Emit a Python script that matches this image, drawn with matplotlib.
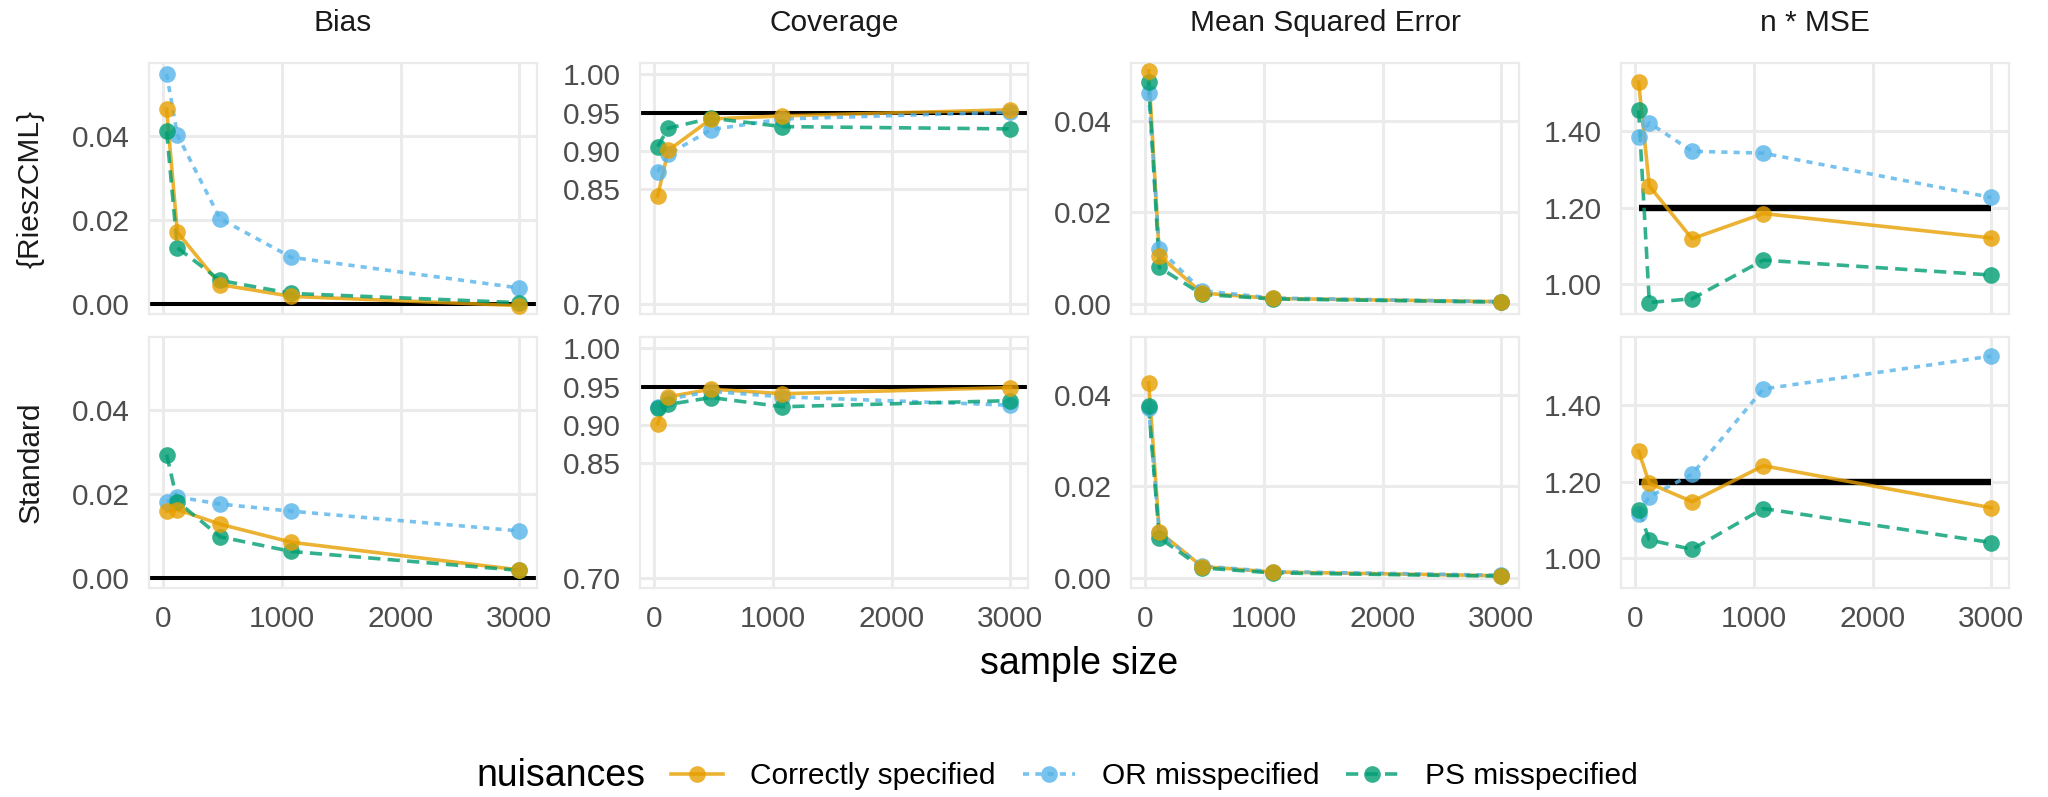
import matplotlib

matplotlib.use("Agg")
import matplotlib.pyplot as plt
from matplotlib.lines import Line2D


plt.rcParams["font.family"] = ["Liberation Sans", "DejaVu Sans"]

FIG_W, FIG_H, DPI = 2048, 797, 100

sample_size = [30, 120, 480, 1080, 3000]

estimators = ["{RieszCML}", "Standard"]
metrics = ["Bias", "Coverage", "Mean Squared Error", "n * MSE"]
nuisances = ["Correctly specified", "OR misspecified", "PS misspecified"]

# Bias
bias_riesz_correct = [0.0463, 0.0170, 0.0045, 0.0017, -0.0005]
bias_riesz_or = [0.0547, 0.0402, 0.0202, 0.0110, 0.0037]
bias_riesz_ps = [0.0410, 0.0133, 0.0055, 0.0024, 0.0002]
bias_std_correct = [0.0158, 0.0162, 0.0127, 0.0084, 0.0018]
bias_std_or = [0.0181, 0.0192, 0.0175, 0.0158, 0.0111]
bias_std_ps = [0.0293, 0.0181, 0.0097, 0.0062, 0.0017]

# Coverage
cov_riesz_correct = [0.8415, 0.901, 0.942, 0.946, 0.954]
cov_riesz_or = [0.873, 0.896, 0.928, 0.942, 0.951]
cov_riesz_ps = [0.906, 0.930, 0.943, 0.932, 0.929]
cov_std_correct = [0.902, 0.937, 0.947, 0.941, 0.949]
cov_std_or = [0.924, 0.934, 0.944, 0.937, 0.926]
cov_std_ps = [0.922, 0.927, 0.936, 0.924, 0.932]

# Mean squared error
mse_riesz_correct = [0.0510, 0.0105, 0.0023, 0.0011, 0.0004]
mse_riesz_or = [0.0462, 0.0119, 0.0028, 0.0012, 0.0004]
mse_riesz_ps = [0.0485, 0.0079, 0.0020, 0.0010, 0.0003]
mse_std_correct = [0.0427, 0.0100, 0.0024, 0.0012, 0.0004]
mse_std_or = [0.0372, 0.0097, 0.0025, 0.0013, 0.0005]
mse_std_ps = [0.0375, 0.0087, 0.0021, 0.0010, 0.0003]

# n * MSE
nmse_riesz_correct = [1.529, 1.257, 1.119, 1.185, 1.121]
nmse_riesz_or = [1.385, 1.422, 1.348, 1.343, 1.227]
nmse_riesz_ps = [1.455, 0.952, 0.962, 1.063, 1.024]
nmse_std_correct = [1.280, 1.196, 1.148, 1.242, 1.132]
nmse_std_or = [1.117, 1.161, 1.220, 1.443, 1.529]
nmse_std_ps = [1.126, 1.048, 1.023, 1.130, 1.041]

# reference values
bias_ref = 0.0
coverage_ref = 0.95
nmse_ref = 1.20

y_breaks = {
    "Bias": [0.00, 0.02, 0.04],
    "Coverage": [0.70, 0.85, 0.90, 0.95, 1.00],
    "Mean Squared Error": [0.00, 0.02, 0.04],
    "n * MSE": [1.00, 1.20, 1.40],
}
y_limits = {
    "Bias": (-0.0025, 0.0573),
    "Coverage": (0.6875, 1.015),
    "Mean Squared Error": (-0.0023, 0.0527),
    "n * MSE": (0.922, 1.579),
}
x_breaks = [0, 1000, 2000, 3000]

COLORS = {
    "Correctly specified": "#E69F00",
    "OR misspecified": "#56B4E9",
    "PS misspecified": "#009E73",
}
DASHES = {
    "Correctly specified": None,
    "OR misspecified": (1.7, 1.7),
    "PS misspecified": (3.4, 2.0),
}

PANEL_LEFT = [149, 640, 1131, 1621]
PANEL_WIDTH = 388
PANEL_TOP = [63, 337]
PANEL_HEIGHT = 251

GRID = "#EBEBEB"
TICK_COLOR = "#4D4D4D"
SMALL = 21.5
LARGE = 27
LINE_W = 2.6
MARKER = 12


def series_table():
    """Collect the series per (estimator, metric)."""
    return {
        ("{RieszCML}", "Bias"): [bias_riesz_correct, bias_riesz_or, bias_riesz_ps],
        ("Standard", "Bias"): [bias_std_correct, bias_std_or, bias_std_ps],
        ("{RieszCML}", "Coverage"): [cov_riesz_correct, cov_riesz_or, cov_riesz_ps],
        ("Standard", "Coverage"): [cov_std_correct, cov_std_or, cov_std_ps],
        ("{RieszCML}", "Mean Squared Error"): [mse_riesz_correct, mse_riesz_or, mse_riesz_ps],
        ("Standard", "Mean Squared Error"): [mse_std_correct, mse_std_or, mse_std_ps],
        ("{RieszCML}", "n * MSE"): [nmse_riesz_correct, nmse_riesz_or, nmse_riesz_ps],
        ("Standard", "n * MSE"): [nmse_std_correct, nmse_std_or, nmse_std_ps],
    }


def add_panel(fig, row, col):
    left = PANEL_LEFT[col] / FIG_W
    bottom = 1 - (PANEL_TOP[row] + PANEL_HEIGHT) / FIG_H
    ax = fig.add_axes([left, bottom, PANEL_WIDTH / FIG_W, PANEL_HEIGHT / FIG_H])
    ax.set_facecolor("white")
    for spine in ax.spines.values():
        spine.set_color(GRID)
        spine.set_linewidth(1.6)
    ax.grid(True, color=GRID, linewidth=2.2)
    ax.set_axisbelow(True)
    ax.tick_params(length=0, labelsize=SMALL, labelcolor=TICK_COLOR)
    ax.tick_params(axis="x", pad=12)
    ax.tick_params(axis="y", pad=14)
    return ax


def draw_series(ax, values):
    for name, y in zip(nuisances, values):
        line = Line2D(sample_size, y, color=COLORS[name], linewidth=LINE_W, alpha=0.8, zorder=3)
        if DASHES[name] is not None:
            line.set_dashes(DASHES[name])
        ax.add_line(line)
    for name in ["OR misspecified", "PS misspecified", "Correctly specified"]:
        y = values[nuisances.index(name)]
        ax.plot(sample_size, y, linestyle="none", marker="o", markersize=MARKER,
                markeredgewidth=0, color=COLORS[name], alpha=0.8, zorder=4)


def main():
    fig = plt.figure(figsize=(FIG_W / DPI, FIG_H / DPI), dpi=DPI)
    table = series_table()

    for row, est in enumerate(estimators):
        for col, metric in enumerate(metrics):
            ax = add_panel(fig, row, col)
            draw_series(ax, table[(est, metric)])

            if metric == "Bias":
                ax.axhline(bias_ref, color="black", linewidth=2.9, zorder=2)
            elif metric == "Coverage":
                ax.axhline(coverage_ref, color="black", linewidth=2.9, zorder=2)
            elif metric == "n * MSE":
                ax.plot([sample_size[0], sample_size[-1]], [nmse_ref, nmse_ref],
                        color="black", linewidth=4.6, solid_capstyle="butt", zorder=2)

            ax.set_xlim(-118.5, 3148.5)
            ax.set_ylim(*y_limits[metric])
            ax.set_xticks(x_breaks)
            ax.set_yticks(y_breaks[metric])
            ax.set_yticklabels([f"{v:.2f}" for v in y_breaks[metric]])
            if row == 0:
                ax.set_xticklabels([])
            else:
                ax.set_xticklabels([str(v) for v in x_breaks])

    # column strips
    for col, metric in enumerate(metrics):
        cx = (PANEL_LEFT[col] + PANEL_WIDTH / 2) / FIG_W
        fig.text(cx, 1 - 23 / FIG_H, metric, ha="center", va="center",
                 fontsize=SMALL, color="#1A1A1A")

    # row strips
    for row, est in enumerate(estimators):
        cy = 1 - (PANEL_TOP[row] + PANEL_HEIGHT / 2) / FIG_H
        fig.text(31 / FIG_W, cy, est, ha="center", va="center", rotation=90,
                 fontsize=SMALL, color="#1A1A1A")

    # x axis title
    x_mid = (PANEL_LEFT[0] + PANEL_LEFT[-1] + PANEL_WIDTH) / 2 / FIG_W
    fig.text(x_mid, 1 - 664 / FIG_H, "sample size", ha="center", va="center",
             fontsize=LARGE, color="black")

    # legend
    fig.text(476 / FIG_W, 1 - 776 / FIG_H, "nuisances", ha="left", va="center",
             fontsize=LARGE, color="black")
    legend_handles = []
    for name in nuisances:
        h = Line2D([0], [0], color=COLORS[name], linewidth=LINE_W, alpha=0.8,
                   marker="o", markersize=MARKER, markeredgewidth=0)
        if DASHES[name] is not None:
            h.set_dashes(DASHES[name])
        legend_handles.append(h)
    fig.legend(legend_handles, nuisances, loc="center left",
               bbox_to_anchor=(671 / FIG_W, 1 - 776 / FIG_H), ncol=3,
               frameon=False, fontsize=SMALL, handlelength=1.75,
               handletextpad=0.9, columnspacing=0.9, borderpad=0, borderaxespad=0)

    fig.savefig("out.png", dpi=DPI, facecolor="white")
    plt.close(fig)


if __name__ == "__main__":
    main()
